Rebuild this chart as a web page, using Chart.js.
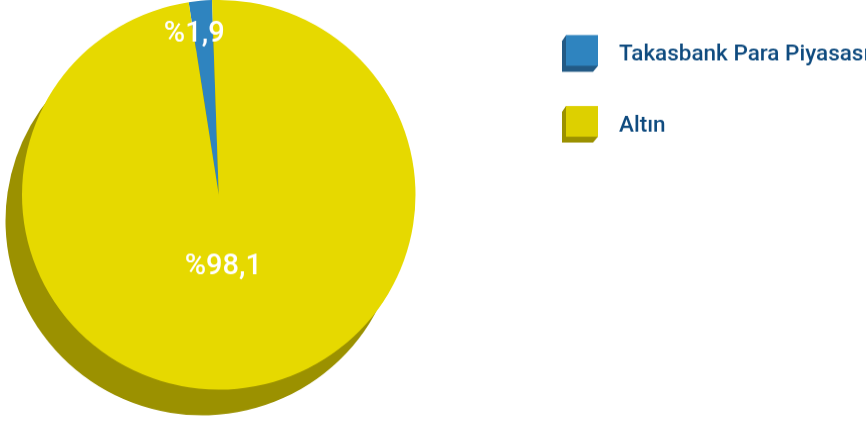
<!DOCTYPE html>
<html lang="tr">
<head>
<meta charset="utf-8">
<title>Takasbank Para Piyasası / Altın</title>
<style>
  html, body { margin: 0; padding: 0; background: #fff; overflow: hidden; }
  /* the reference pie is a touch flatter than a circle */
  #wrap { position: absolute; left: 0; top: 0; width: 866px; height: 430px; transform: scaleY(0.99); transform-origin: 0 0; }
</style>
</head>
<body>
<div id="wrap"><canvas id="pie" width="866" height="430"></canvas></div>
<script src="https://cdn.jsdelivr.net/npm/chart.js@4/dist/chart.umd.min.js"></script>
<script>
var categories = ['Takasbank Para Piyasası', 'Altın'];
var values = [1.9, 98.1];
var valueLabels = ['%1,9', '%98,1'];
var faceColors = ['#2f84bf', '#e6d900'];
var legendColors = ['#2f84bf', '#ddd000'];
var shadeColors = ['#235a85', '#9b9100'];

var fontName = 'Roboto, sans-serif';

// dark copy of the slices, shifted down-left, gives the 3d look
var pieShadow = {
  id: 'pieShadow',
  beforeDatasetsDraw: function (chart) {
    var ctx = chart.ctx;
    chart.getDatasetMeta(0).data.forEach(function (arc, i) {
      ctx.save();
      ctx.translate(-16.5, 26);
      ctx.fillStyle = shadeColors[i];
      ctx.beginPath();
      ctx.moveTo(arc.x, arc.y);
      ctx.arc(arc.x, arc.y, arc.outerRadius, arc.startAngle, arc.endAngle);
      ctx.closePath();
      ctx.fill();
      ctx.restore();
    });
  }
};

var sliceLabels = {
  id: 'sliceLabels',
  afterDatasetsDraw: function (chart) {
    var ctx = chart.ctx;
    ctx.save();
    ctx.font = '500 29px ' + fontName;
    ctx.fillStyle = '#fff';
    ctx.textAlign = 'center';
    ctx.textBaseline = 'middle';
    chart.getDatasetMeta(0).data.forEach(function (arc, i) {
      var mid = (arc.startAngle + arc.endAngle) / 2;
      var dist = arc.outerRadius * (i === 0 ? 0.84 : 0.355);
      var nudge = i === 0 ? -9 : -2;
      ctx.fillText(valueLabels[i], arc.x + Math.cos(mid) * dist + nudge, arc.y + Math.sin(mid) * dist + 3);
    });
    ctx.restore();
  }
};

function drawSwatch(ctx, x, y, i) {
  var w = 32;
  var h = 31;
  ctx.fillStyle = shadeColors[i];
  ctx.beginPath();
  ctx.moveTo(x, y);
  ctx.lineTo(x - 4, y + 6);
  ctx.lineTo(x - 4, y + h + 6);
  ctx.lineTo(x + w - 5, y + h + 6);
  ctx.lineTo(x + w, y + h);
  ctx.closePath();
  ctx.fill();
  ctx.fillStyle = legendColors[i];
  ctx.fillRect(x, y, w, h);
}

var boxLegend = {
  id: 'boxLegend',
  afterDraw: function (chart) {
    var ctx = chart.ctx;
    ctx.save();
    categories.forEach(function (name, i) {
      var y = 35.4 + i * 71.7;
      drawSwatch(ctx, 566, y, i);
      ctx.font = '500 22.5px ' + fontName;
      ctx.fillStyle = '#0f4b7f';
      ctx.textAlign = 'left';
      ctx.textBaseline = 'middle';
      ctx.fillText(name, 619, y + 20);
    });
    ctx.restore();
  }
};

new Chart(document.getElementById('pie'), {
  type: 'pie',
  data: {
    labels: categories,
    datasets: [{
      data: values,
      backgroundColor: faceColors,
      borderWidth: 0,
    }],
  },
  plugins: [pieShadow, sliceLabels, boxLegend],
  options: {
    responsive: false,
    animation: false,
    rotation: -8.8,
    layout: {
      padding: { left: 22, right: 450.5, top: 0, bottom: 36.5 },
    },
    plugins: {
      legend: { display: false },
      tooltip: { enabled: false },
    },
  },
});
</script>
</body>
</html>
